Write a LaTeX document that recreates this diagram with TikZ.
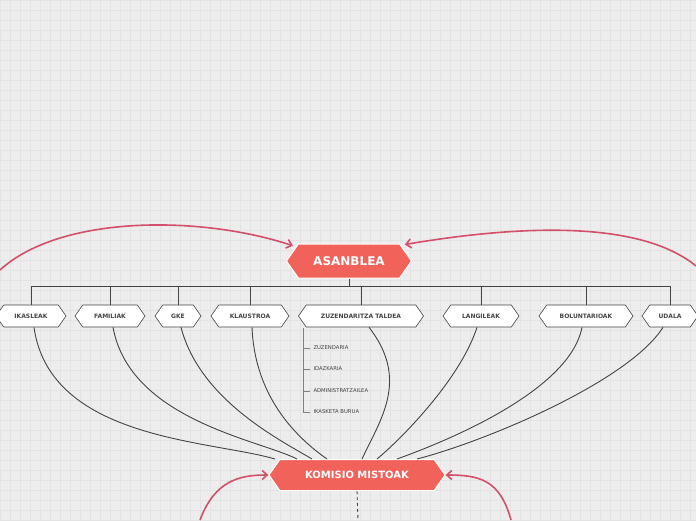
\documentclass[tikz,border=0pt]{standalone}
\usepackage{fontspec}
\setmainfont{DejaVu Sans}
\usetikzlibrary{shapes.symbols,arrows.meta}
\definecolor{bg}{HTML}{EDEDED}
\definecolor{grid}{HTML}{E3E3E3}
\definecolor{redn}{HTML}{F0625A}
\definecolor{arc}{HTML}{D2506A}
\definecolor{ln}{HTML}{444444}
\tikzset{
 hexb/.style={signal, signal to=east and west, signal pointer angle=110, draw=ln, fill=white, line width=0.6pt, minimum height=22pt, inner sep=0pt, font=\bfseries\fontsize{6}{7}\selectfont, text=ln},
 hexr/.style={signal, signal to=east and west, signal pointer angle=110, draw=white, fill=redn, line width=1pt, inner sep=0pt, font=\bfseries, text=white},
 conn/.style={draw=ln, line width=0.9pt},
 redarc/.style={draw=arc, line width=1.6pt, -{Straight Barb[length=5pt,width=9pt]}},
 sub/.style={font=\fontsize{5.3}{6}\selectfont, text=ln, anchor=west},
}
\begin{document}
\begin{tikzpicture}[x=1pt,y=-1pt]
\fill[bg] (0,0) rectangle (696,520);
\useasboundingbox (0,0) rectangle (696,520);
\draw[grid, step=10pt, line width=0.4pt] (0,0) grid (696,520);
\node[hexr, minimum width=125pt, minimum height=34pt, font=\bfseries\fontsize{12}{14}\selectfont] (as) at (349,261) {ASANBLEA};
\node[hexr, minimum width=176pt, minimum height=31pt, font=\bfseries\fontsize{10}{12}\selectfont] (km) at (357,475) {KOMISIO MISTOAK};
\foreach \n/\x in {a/31, b/110, c/178, d/250, e/361, f/481, g/586, h/670}{
 \coordinate (t\n) at (\x,286);
}
\draw[conn] (as.south) -- ++(0,7);
\draw[conn] (ta) -- (th);
\foreach \n/\x/\w/\t in {a/31/70/IKASLEAK, b/110/70/FAMILIAK, c/178/46/GKE, d/250/78/KLAUSTROA, e/361/125/ZUZENDARITZA TALDEA, f/481/76/LANGILEAK, g/586/94/BOLUNTARIOAK, h/670/56/UDALA}{
 \node[hexb, minimum width=\w pt] (\n) at (\x,316) {\t};
 \draw[conn] (t\n) -- (\n.north);
}
\draw[conn] ([xshift=3pt]a.south) .. controls (50,440) and (210,440) .. ([xshift=-82pt]km.north);
\draw[conn] ([xshift=3pt]b.south) .. controls (130,420) and (260,440) .. ([xshift=-60pt]km.north);
\draw[conn] ([xshift=3pt]c.south) .. controls (200,400) and (280,440) .. ([xshift=-45pt]km.north);
\draw[conn] ([xshift=2pt]d.south) .. controls (255,400) and (300,440) .. ([xshift=-30pt]km.north);
\draw[conn] ([xshift=8pt]e.south) .. controls (410,380) and (380,420) .. ([xshift=5pt]km.north);
\draw[conn] ([xshift=-4pt]f.south) .. controls (460,380) and (400,440) .. ([xshift=20pt]km.north);
\draw[conn] ([xshift=-4pt]g.south) .. controls (570,390) and (450,440) .. ([xshift=40pt]km.north);
\draw[conn] ([xshift=-7pt]h.south) .. controls (630,380) and (490,440) .. ([xshift=60pt]km.north);
\draw[conn, dashed] (km.south) -- (358,520);
\draw[draw=gray, line width=0.6pt] (303,328) -- (303,412);
\foreach \y/\t/\n in {348/ZUZENDARIA/s1, 369/IDAZKARIA/s2, 391/ADMINISTRATZAILEA/s3, 412/IKASKETA BURUA/s4}{
 \node[sub] (\n) at (310,\y) {\t};
 \draw[gray, line width=0.6pt] (303,\y) -- (\n.west);
}
\draw[redarc] (0,270) .. controls (60,215) and (200,215) .. ([xshift=-5pt,yshift=-2pt]as.north west);
\draw[redarc] (696,266) .. controls (640,220) and (520,225) .. ([xshift=5pt,yshift=-1pt]as.north east);
\draw[redarc] (200,520) .. controls (215,480) and (240,475) .. (km.west);
\draw[redarc] (511,520) .. controls (500,480) and (480,475) .. (km.east);
\end{tikzpicture}
\end{document}
